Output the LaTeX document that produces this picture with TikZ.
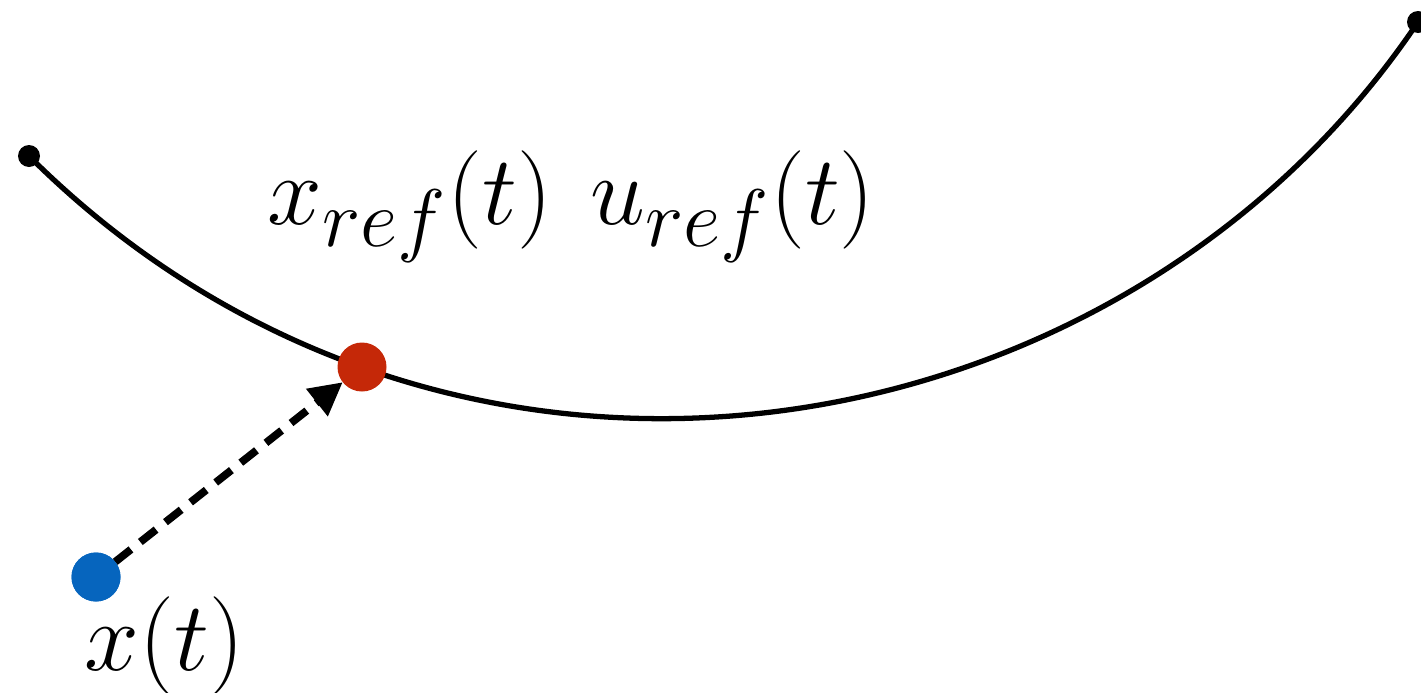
\RequirePackage{fix-cm}
\documentclass[tikz,border=0pt]{standalone}
\usetikzlibrary{arrows.meta}
\DeclareMathSizes{28}{28}{23.24}{19.36}
\definecolor{refred}{RGB}{197,40,8}
\definecolor{stateblue}{RGB}{6,101,190}
\begin{document}
\begin{tikzpicture}[
  enddot/.style={circle,fill=black,inner sep=0pt,minimum size=0.22cm,outer sep=0pt},
  bigdot/.style={circle,inner sep=0pt,minimum size=0.49cm,outer sep=0pt},
  lbl/.style={inner sep=0pt,font=\fontsize{28}{34}\selectfont},
  traj/.style={line width=1.5pt},
  conn/.style={line width=2.2pt,dash pattern=on 0.2cm off 0.12cm,-{Triangle[length=0.33cm,width=0.33cm]}}
]
\useasboundingbox (0,0) rectangle (14.21,6.92);
\node[enddot] (A) at (0.29,5.36) {};
\node[enddot] (B) at (14.18,6.70) {};
\draw[traj] (A.center) .. controls (4.50,1.17) and (11.20,2.27) .. (B.center);
\node[bigdot,fill=refred] (r) at (3.62,3.25) {};
\node[bigdot,fill=stateblue] (x) at (0.96,1.15) {};
\draw[conn] (x) -- (r);
\node[bigdot,fill=stateblue] at (x) {};
\node[lbl,anchor=base west] (ref) at (2.67,4.68) {$x_{ref}(t)\hspace{0.38cm}u_{ref}(t)$};
\node[lbl,anchor=base west] (xl) at (0.84,0.22) {$x(t)$};
\end{tikzpicture}
\end{document}
